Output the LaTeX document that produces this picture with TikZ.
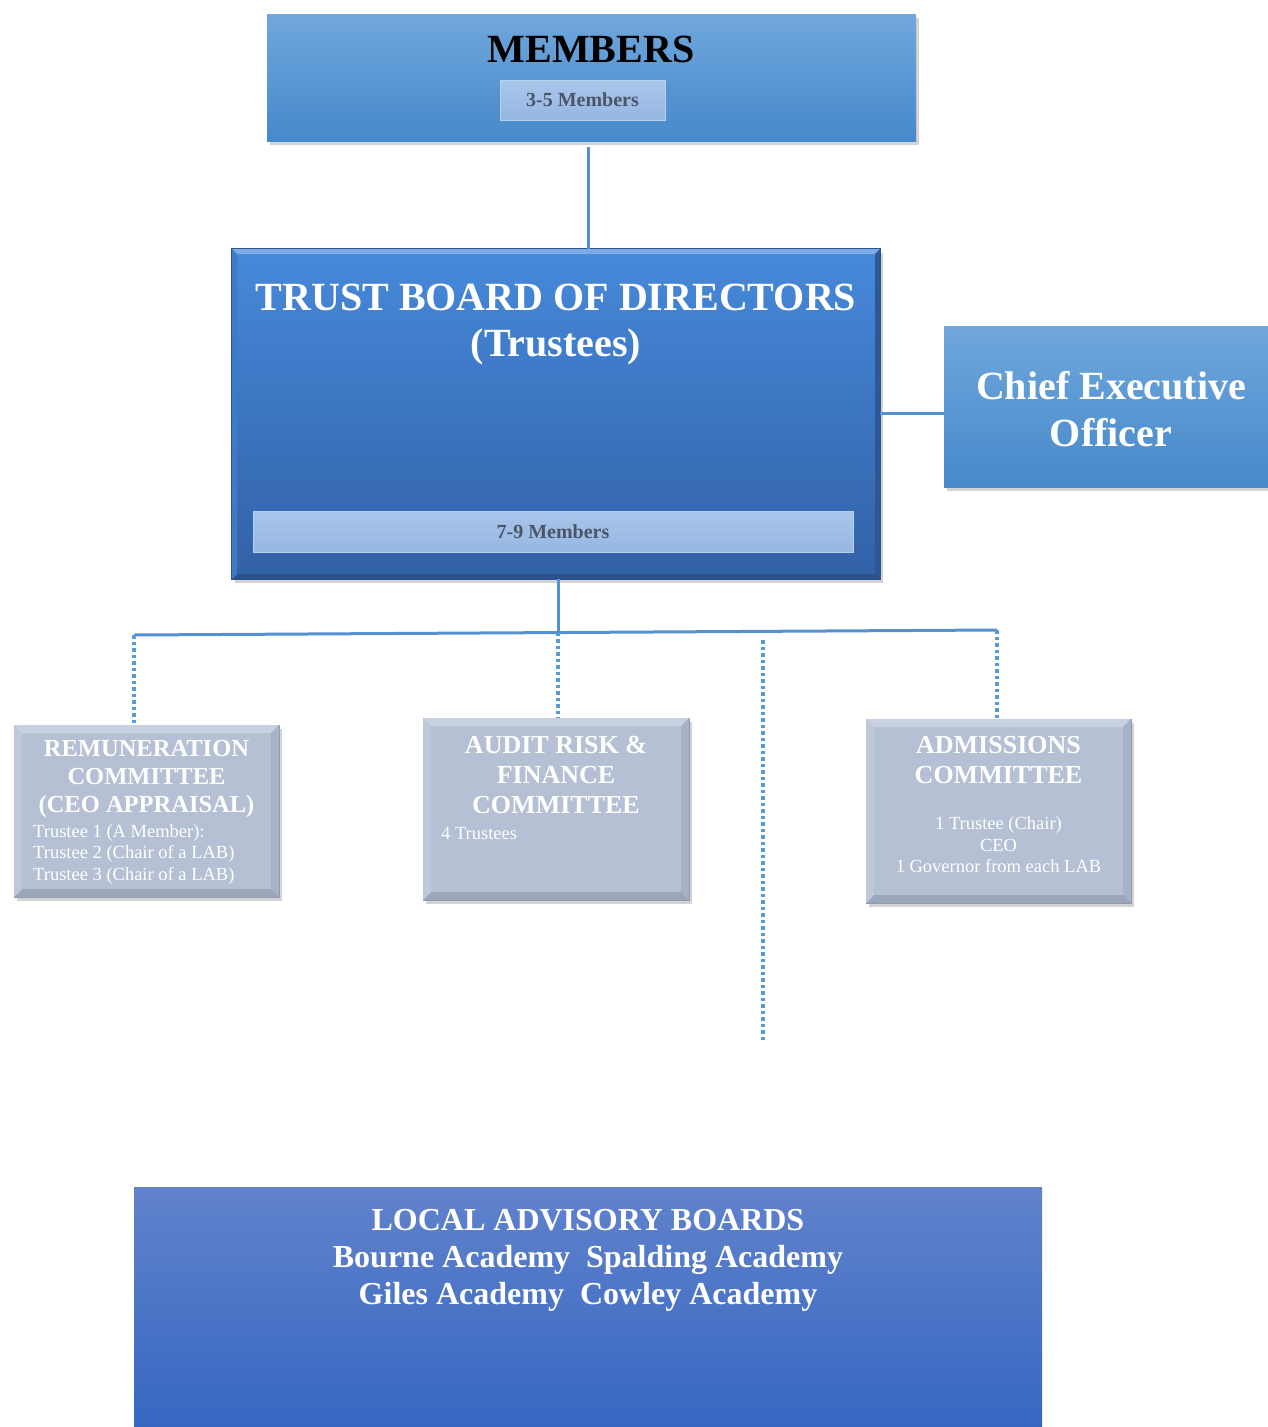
\documentclass[tikz,border=0pt]{standalone}
\usepackage{fontspec}
\setmainfont{Liberation Serif}
\usetikzlibrary{calc,shadows}
\definecolor{lineblue}{HTML}{5591D0}
\definecolor{dotblue}{HTML}{5B9BD5}
\definecolor{lighttop}{HTML}{70A7DD}
\definecolor{lightbot}{HTML}{4689CA}
\definecolor{trusttop}{HTML}{4689DA}
\definecolor{trustbot}{HTML}{3261A7}
\definecolor{trustedge}{HTML}{2E5390}
\definecolor{subfill}{HTML}{A9C5EA}
\definecolor{subbot}{HTML}{96B7E3}
\definecolor{subtext}{HTML}{4B5567}
\definecolor{comfill}{HTML}{B5C0D4}
\definecolor{comtop}{HTML}{C8D1E0}
\definecolor{comleft}{HTML}{BEC8D9}
\definecolor{comright}{HTML}{A7B2C6}
\definecolor{combot}{HTML}{9BA6BA}
\definecolor{comedge}{HTML}{8E99AD}
\definecolor{labtop}{HTML}{6182CC}
\definecolor{labbot}{HTML}{3466C1}
\newcommand{\mybevel}[6]{%
  \fill[#3] (#1.north west) -- (#1.north east) -- ($(#1.north east)+(-#2,#2)$) -- ($(#1.north west)+(#2,#2)$) -- cycle;
  \fill[#4] (#1.north east) -- (#1.south east) -- ($(#1.south east)+(-#2,-#2)$) -- ($(#1.north east)+(-#2,#2)$) -- cycle;
  \fill[#5] (#1.south east) -- (#1.south west) -- ($(#1.south west)+(#2,-#2)$) -- ($(#1.south east)+(-#2,-#2)$) -- cycle;
  \fill[#6] (#1.south west) -- (#1.north west) -- ($(#1.north west)+(#2,#2)$) -- ($(#1.south west)+(#2,-#2)$) -- cycle;
}
\begin{document}
\begin{tikzpicture}[x=1pt,y=-1pt,
  boxbase/.style={inner sep=0pt, outer sep=0pt, draw=none},
  lightbox/.style={boxbase, top color=lighttop, bottom color=lightbot,
     drop shadow={shadow xshift=3pt, shadow yshift=-4pt, opacity=0.35}},
  trustbox/.style={boxbase, top color=trusttop, bottom color=trustbot, draw=trustedge, line width=2pt,
     drop shadow={shadow xshift=3pt, shadow yshift=-4pt, opacity=0.35}},
  combox/.style={boxbase, fill=comfill, draw=comedge, line width=1pt,
     drop shadow={shadow xshift=3pt, shadow yshift=-4pt, opacity=0.35}},
  labbox/.style={boxbase, top color=labtop, bottom color=labbot},
  subbox/.style={boxbase, top color=subfill, bottom color=subbot, draw=subfill!80!white, line width=1pt,
     text=subtext, font=\fontsize{20}{22}\selectfont\bfseries},
  bigtitle/.style={inner sep=0pt, align=center, font=\fontsize{40}{46}\selectfont\bfseries},
  comtitle/.style={inner sep=0pt, align=center, text=white, font=\fontsize{24.5}{28}\selectfont\bfseries},
  comtext/.style={inner sep=0pt, text=white, font=\fontsize{18.5}{21.5}\selectfont},
  solidline/.style={draw=lineblue, line width=3pt},
  dotline/.style={draw=dotblue, line width=3.5pt, dash pattern=on 3.5pt off 3pt}
]
\useasboundingbox (0,0) rectangle (1268,1427);

% MEMBERS
\node[lightbox, minimum width=649, minimum height=127] (members) at (591.5,77.5) {};
\node[bigtitle, text=black] (membersT) at (591,49) {MEMBERS};
\node[subbox, minimum width=165, minimum height=40] (membersS) at (582.5,100) {3-5 Members};

% TRUST BOARD
\node[trustbox, minimum width=648, minimum height=330] (trust) at (556,414) {};
\mybevel{trust}{5}{trusttop!70!white}{trustbot!90!black}{trustbot!85!black}{trusttop!90!black}
\node[bigtitle, text=white] (trustT) at (556,325) {TRUST BOARD OF DIRECTORS\\(Trustees)};
\node[subbox, minimum width=600, minimum height=41] (trustS) at (553,531.5) {7-9 Members};

% CEO
\node[lightbox, minimum width=324, minimum height=161] (ceo) at (1106,406.5) {};
\node[inner sep=0pt, align=center, text=white, font=\fontsize{40}{47}\selectfont\bfseries] (ceoT) at (1111,409) {Chief Executive\\Officer};

% Committees
\node[combox, minimum width=265, minimum height=172] (rem) at (146.5,811) {};
\mybevel{rem}{8}{comtop}{comright}{combot}{comleft}
\node[comtitle] (remT) at (146.5,779) {REMUNERATION\\COMMITTEE\\(CEO APPRAISAL)};
\node[comtext, anchor=north west, align=left] (remX) at (33,824) {Trustee 1 (A Member):\\Trustee 2 (Chair of a LAB)\\Trustee 3 (Chair of a LAB)};

\node[combox, minimum width=266, minimum height=182] (aud) at (556,809) {};
\mybevel{aud}{8}{comtop}{comright}{combot}{comleft}
\node[comtitle, font=\fontsize{26}{30}\selectfont\bfseries] (audT) at (556,775) {AUDIT RISK \&\\FINANCE\\COMMITTEE};
\node[comtext, anchor=north west] (audX) at (441,827) {4 Trustees};

\node[combox, minimum width=265, minimum height=184] (adm) at (998.5,811) {};
\mybevel{adm}{8}{comtop}{comright}{combot}{comleft}
\node[comtitle, font=\fontsize{26}{30}\selectfont\bfseries] (admT) at (998.5,760) {ADMISSIONS\\COMMITTEE};
\node[comtext, align=center] (admX) at (998.5,845) {1 Trustee (Chair)\\CEO\\1 Governor from each LAB};

% LAB
\node[labbox, minimum width=908, minimum height=250] (lab) at (588,1312) {};
\node[inner sep=0pt, align=center, text=white, font=\fontsize{32}{37}\selectfont\bfseries] (labT) at (588,1260) {LOCAL ADVISORY BOARDS\\Bourne Academy\ \ Spalding Academy\\Giles Academy\ \ Cowley Academy};

% Connectors
\coordinate (mx) at (588,0);
\draw[solidline] (members.south -| mx) ++(0,6) -- (trust.north -| mx);
\draw[solidline] (trust.east) ++(0,-1) -- (ceo.west |- 0,413);
\coordinate (barL) at (134,635);
\coordinate (barR) at (997,630);
\coordinate (barM) at (558,632.5);
\draw[solidline] (trust.south -| barM) -- (barM);
\draw[solidline] (barL) -- (barR);
\draw[dotline] (barL) -- (barL |- rem.north);
\draw[dotline] (barM) -- (barM |- aud.north);
\draw[dotline] (barR) -- (barR |- adm.north);
\coordinate (freeTop) at (763,640);
\coordinate (freeBot) at (763,1040);
\draw[dotline] (freeTop) -- (freeBot);
\end{tikzpicture}
\end{document}
